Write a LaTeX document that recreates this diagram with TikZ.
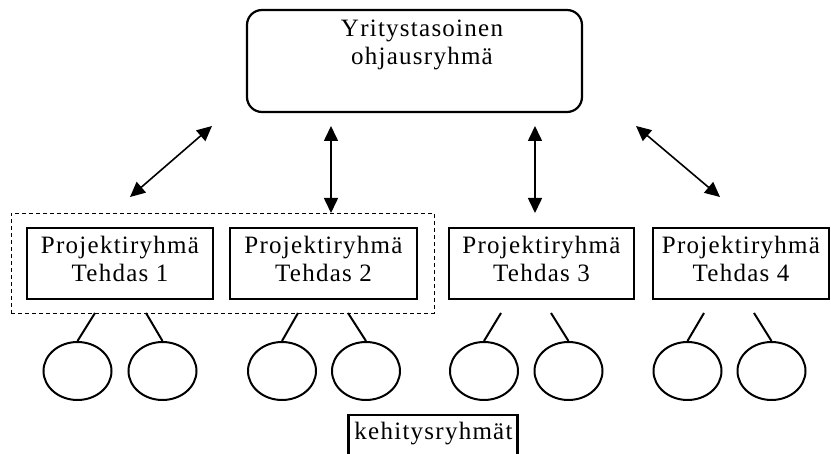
\documentclass[tikz,border=0pt]{standalone}
\usepackage{fontspec}
\setmainfont{Liberation Serif}[LetterSpace=5]
\usetikzlibrary{arrows.meta,shapes.geometric,calc}

\begin{document}
\begin{tikzpicture}[x=1pt,y=-1pt,
  lbl/.style={font=\fontsize{25}{27.5}\selectfont, align=center, inner sep=0pt},
  topbox/.style={draw, line width=2.2pt, rounded corners=15pt,
    minimum width=335pt, minimum height=102pt, inner sep=0pt},
  grpbox/.style={draw, line width=0.9pt, dash pattern=on 4pt off 3pt,
    minimum width=423pt, minimum height=100pt, inner sep=0pt},
  projbox/.style={draw, line width=2.6pt, minimum height=71pt, inner sep=0pt},
  devgrp/.style={ellipse, draw, line width=2pt,
    minimum width=68pt, minimum height=58pt, inner sep=0pt},
  tagbox/.style={draw, line width=2.4pt, minimum width=169pt,
    minimum height=60pt, inner sep=0pt},
  link/.style={line width=2pt},
  dual/.style={line width=1.6pt,
    {Triangle[length=15pt,width=14pt]}-{Triangle[length=15pt,width=14pt]}}
]
\useasboundingbox (0,0) rectangle (831,454);
\clip (0,0) rectangle (831,454);

% steering group
\node[topbox] (top) at (414.5,61) {};
\node[lbl, anchor=north] (toptxt) at (422,20) {Yritystasoinen\\ohjausryhmä};

% dashed frame around factories 1 and 2
\node[grpbox] (grp) at (222.5,263) {};

% project groups
\node[projbox, minimum width=186pt] (p1) at (120,263.5) {};
\node[projbox, minimum width=187pt] (p2) at (323.5,263.5) {};
\node[projbox, minimum width=185pt] (p3) at (541.5,263.5) {};
\node[projbox, minimum width=176pt] (p4) at (741,263.5) {};
\node[lbl] (p1txt) at (120,259) {Projektiryhmä\\Tehdas 1};
\node[lbl] (p2txt) at (323.5,259) {Projektiryhmä\\Tehdas 2};
\node[lbl] (p3txt) at (541.5,259) {Projektiryhmä\\Tehdas 3};
\node[lbl] (p4txt) at (741,259) {Projektiryhmä\\Tehdas 4};

% two-way links between steering group and project groups
\coordinate (a1s) at (130,197);  \coordinate (a1e) at (212,126);
\coordinate (a2s) at (331,213);  \coordinate (a2e) at (331,126);
\coordinate (a3s) at (535,213);  \coordinate (a3e) at (535,126);
\coordinate (a4s) at (720,197);  \coordinate (a4e) at (636,126);
\draw[dual] (a1s) -- (a1e);
\draw[dual] (a2s) -- (a2e);
\draw[dual] (a3s) -- (a3e);
\draw[dual] (a4s) -- (a4e);

% development groups
\foreach \i/\x in {1/77.5,2/162.5,3/282,4/366,5/484,6/568.5,7/687.5,8/771.5}
  \node[devgrp] (e\i) at (\x,371) {};

\foreach \i/\x in {1/95,2/146,3/298,4/348,5/501,6/551,7/704,8/754}
  \coordinate (c\i) at (\x,313);
\foreach \i in {1,...,8}
  \draw[link] (c\i) -- (e\i.north);

% caption box
\node[tagbox] (tag) at (433,445) {};
\node[lbl, anchor=base] (tagtxt) at (433.5,440) {kehitysryhmät};
\end{tikzpicture}
\end{document}
